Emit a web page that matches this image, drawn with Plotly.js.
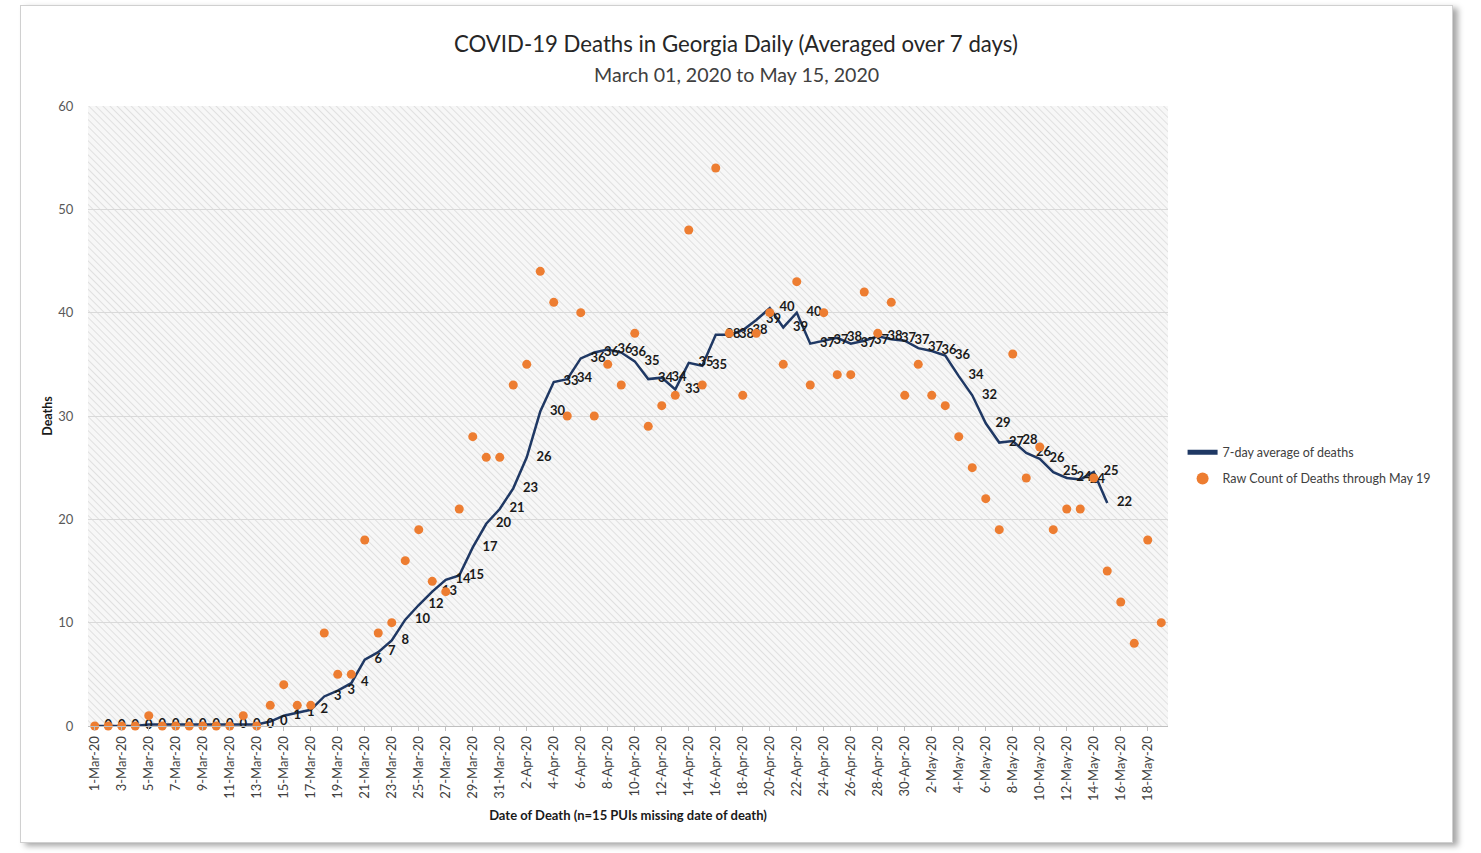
<!DOCTYPE html>
<html>
<head>
<meta charset="utf-8">
<script src="https://cdn.plot.ly/plotly-3.0.1.min.js"></script>
<style>
html,body{margin:0;padding:0;background:#ffffff;}
#frame{position:absolute;left:20px;top:5px;width:1431px;height:836px;border:1px solid #d0d0d0;background:#fff;box-shadow:5px 3px 6px rgba(0,0,0,0.35);}
#chart{position:absolute;left:0;top:0;width:1481px;height:853px;}
</style>
</head>
<body>
<div id="frame"></div>
<div id="chart"></div>
<script>
// Categories: date of death, 1-Mar-20 .. 19-May-20
const dates = [
 "1-Mar-20","2-Mar-20","3-Mar-20","4-Mar-20","5-Mar-20","6-Mar-20","7-Mar-20","8-Mar-20","9-Mar-20","10-Mar-20",
 "11-Mar-20","12-Mar-20","13-Mar-20","14-Mar-20","15-Mar-20","16-Mar-20","17-Mar-20","18-Mar-20","19-Mar-20","20-Mar-20",
 "21-Mar-20","22-Mar-20","23-Mar-20","24-Mar-20","25-Mar-20","26-Mar-20","27-Mar-20","28-Mar-20","29-Mar-20","30-Mar-20",
 "31-Mar-20","1-Apr-20","2-Apr-20","3-Apr-20","4-Apr-20","5-Apr-20","6-Apr-20","7-Apr-20","8-Apr-20","9-Apr-20",
 "10-Apr-20","11-Apr-20","12-Apr-20","13-Apr-20","14-Apr-20","15-Apr-20","16-Apr-20","17-Apr-20","18-Apr-20","19-Apr-20",
 "20-Apr-20","21-Apr-20","22-Apr-20","23-Apr-20","24-Apr-20","25-Apr-20","26-Apr-20","27-Apr-20","28-Apr-20","29-Apr-20",
 "30-Apr-20","1-May-20","2-May-20","3-May-20","4-May-20","5-May-20","6-May-20","7-May-20","8-May-20","9-May-20",
 "10-May-20","11-May-20","12-May-20","13-May-20","14-May-20","15-May-20","16-May-20","17-May-20","18-May-20","19-May-20"
];

// Raw count of deaths (orange dots)
const rawDeaths = [
 0,0,0,0,1,0,0,0,0,0,
 0,1,0,2,4,2,2,9,5,5,
 18,9,10,16,19,14,13,21,28,26,
 26,33,35,44,41,30,40,30,35,33,
 38,29,31,32,48,33,54,38,32,38,
 40,35,43,33,40,34,34,42,38,41,
 32,35,32,31,28,25,22,19,36,24,
 27,19,21,21,24,15,12,8,18,10
];

// 7-day average of deaths (navy line), ends 15-May-20
const avgDeaths = [
 0,0,0,0,0.14,0.14,0.14,0.14,0.14,0.14,
 0.14,0.14,0.14,0.43,1.0,1.29,1.57,2.86,3.43,4.14,
 6.43,7.14,8.29,10.29,11.71,13.0,14.14,14.57,17.29,19.57,
 21.0,23.0,26.0,30.43,33.29,33.57,35.57,36.14,36.43,36.14,
 35.29,33.57,33.71,32.57,35.14,34.86,37.86,37.86,38.29,39.29,
 40.43,38.57,40.0,37.0,37.29,37.57,37.0,37.29,37.71,37.43,
 37.29,36.57,36.29,35.86,33.86,32.0,29.29,27.43,27.57,26.43,
 25.86,24.57,24.0,23.86,24.57,21.57,null,null,null,null
];

// Tick labels shown on the x axis (every second day)
const tickDates = [
 "1-Mar-20","3-Mar-20","5-Mar-20","7-Mar-20","9-Mar-20","11-Mar-20","13-Mar-20","15-Mar-20","17-Mar-20","19-Mar-20",
 "21-Mar-20","23-Mar-20","25-Mar-20","27-Mar-20","29-Mar-20","31-Mar-20","2-Apr-20","4-Apr-20","6-Apr-20","8-Apr-20",
 "10-Apr-20","12-Apr-20","14-Apr-20","16-Apr-20","18-Apr-20","20-Apr-20","22-Apr-20","24-Apr-20","26-Apr-20","28-Apr-20",
 "30-Apr-20","2-May-20","4-May-20","6-May-20","8-May-20","10-May-20","12-May-20","14-May-20","16-May-20","18-May-20"
];

const avgLabels = avgDeaths.map(v => v === null ? null : String(Math.round(v)));

const FONT = "Lato, 'Open Sans', sans-serif";

const hatch = '<svg xmlns="http://www.w3.org/2000/svg" width="1080" height="620">' +
 '<defs><pattern id="p" width="5" height="5" patternUnits="userSpaceOnUse" patternTransform="rotate(-45)">' +
 '<rect width="5" height="5" fill="#f7f7f7"/><line x1="0" y1="0" x2="0" y2="5" stroke="#dcdcdc" stroke-width="1.7"/></pattern></defs>' +
 '<rect width="100%" height="100%" fill="url(#p)"/></svg>';
const hatchUri = 'data:image/svg+xml;charset=utf-8,' + encodeURIComponent(hatch);

const traces = [
 {
  type: 'scatter', mode: 'lines+markers+text',
  name: '7-day average of deaths',
  x: dates, y: avgDeaths,
  text: avgLabels, textposition: 'middle right',
  textfont: {family: FONT, size: 13, color: '#1a1a1a', weight: 'bold'},
  line: {color: '#1f3864', width: 2.5},
  marker: {size: 14, color: 'rgba(0,0,0,0)', line: {width: 0}},
  connectgaps: false, cliponaxis: false,
  hoverinfo: 'x+y', legendgroup: 'a'
 },
 {
  type: 'scatter', mode: 'markers',
  name: 'Raw Count of Deaths through May 19',
  x: dates, y: rawDeaths,
  marker: {color: '#ed7d31', size: 9},
  cliponaxis: false,
  hoverinfo: 'x+y', legendgroup: 'b'
 }
];

const layout = {
 width: 1481, height: 853,
 margin: {l: 88, r: 313, t: 106, b: 127},
 paper_bgcolor: 'rgba(0,0,0,0)',
 plot_bgcolor: '#f7f7f7',
 font: {family: FONT, color: '#595959', size: 13},
 showlegend: true,
 legend: {
  x: 1.0135, xanchor: 'left', y: 0.42, yanchor: 'middle',
  font: {family: FONT, size: 12.5, color: '#404040'},
  bgcolor: 'rgba(0,0,0,0)', traceorder: 'grouped', tracegroupgap: 7,
  itemsizing: 'constant'
 },
 xaxis: {
  type: 'category', categoryorder: 'array', categoryarray: dates,
  range: [-0.5, dates.length - 0.5],
  tickmode: 'array', tickvals: tickDates, ticktext: tickDates,
  tickangle: -90,
  tickfont: {family: FONT, size: 13, color: '#404040'},
  ticks: 'outside', ticklen: 4, tickcolor: '#bfbfbf',
  showline: true, linecolor: '#bfbfbf', linewidth: 1,
  showgrid: false, zeroline: false,
  title: {text: 'Date of Death (n=15 PUIs missing date of death)', font: {family: FONT, size: 13, color: '#1a1a1a', weight: 'bold'}, standoff: 10}
 },
 yaxis: {
  range: [0, 60], dtick: 10, tick0: 0,
  tickfont: {family: FONT, size: 13, color: '#595959'},
  ticks: 'outside', ticklen: 11, tickcolor: 'rgba(0,0,0,0)',
  showgrid: true, gridcolor: '#d9d9d9', gridwidth: 1.3,
  zeroline: false, showline: false,
  title: {text: 'Deaths', font: {family: FONT, size: 12.5, color: '#1a1a1a', weight: 'bold'}, standoff: 2}
 },
 images: [{
  source: hatchUri, xref: 'paper', yref: 'paper', x: 0, y: 1, sizex: 1, sizey: 1,
  xanchor: 'left', yanchor: 'top', sizing: 'stretch', layer: 'below'
 }],
 annotations: [
  {text: 'COVID-19 Deaths in Georgia Daily (Averaged over 7 days)', xref: 'paper', yref: 'paper',
   x: (736 - 88) / 1080, y: 1 + (106 - 44) / 620, xanchor: 'center', yanchor: 'middle', showarrow: false,
   font: {family: FONT, size: 22.2, color: '#262626'}},
  {text: 'March 01, 2020 to May 15, 2020', xref: 'paper', yref: 'paper',
   x: (736 - 88) / 1080, y: 1 + (106 - 75) / 620, xanchor: 'center', yanchor: 'middle', showarrow: false,
   font: {family: FONT, size: 19.6, color: '#404040'}}
 ]
};

Plotly.newPlot('chart', traces, layout, {displayModeBar: false, responsive: false});
</script>
</body>
</html>
